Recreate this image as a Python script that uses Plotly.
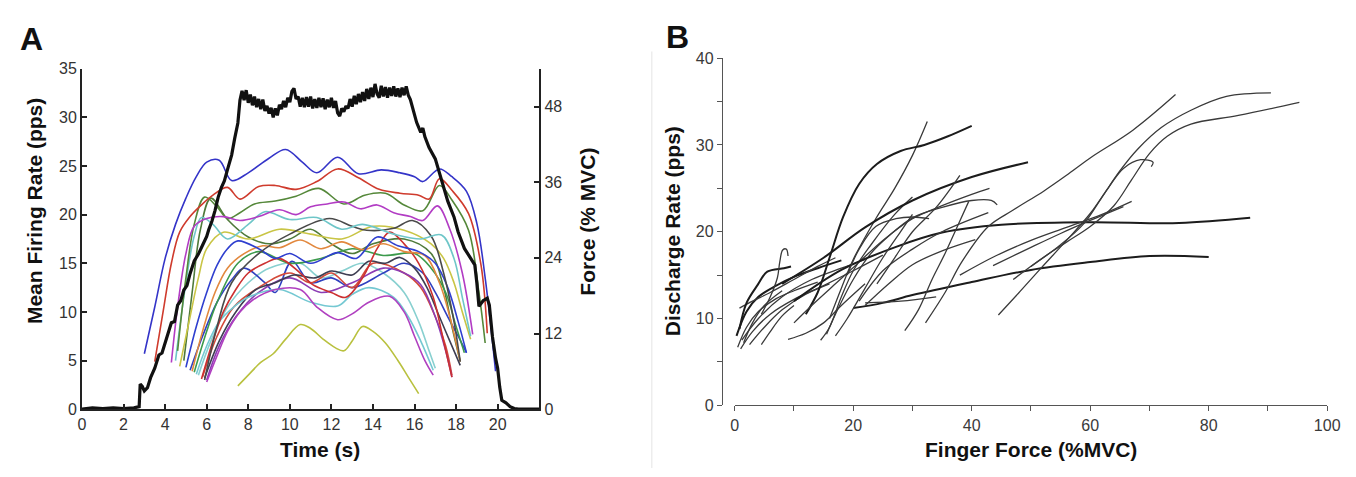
import plotly.graph_objects as go

# ---------------- Panel A data: motor-unit firing rates (pps) ----------------
mu01_t = [3.0,3.5,4.0,4.5,5.0,5.5,6.0,6.6,7.2,8.0,9.0,9.8,10.6,11.3,12.3,13.3,14.4,15.3,16.0,16.4,17.2,17.8,18.5,19.0,19.4,19.9]
mu01_r = [5.7,10.5,15.5,19.0,21.7,23.9,25.4,25.6,23.5,24.3,25.8,26.7,25.4,24.3,25.9,24.2,24.6,24.3,23.9,23.4,24.7,23.9,22.4,19.1,13.5,3.9]
mu02_t = [3.5,3.9,4.3,4.7,5.2,5.7,6.3,7.0,7.6,8.5,9.3,10.3,11.3,12.3,13.3,14.3,15.3,16.2,16.7,17.2,17.8,18.6,19.2,19.5]
mu02_r = [4.9,10.0,15.0,18.2,19.8,20.9,22.0,22.8,21.6,22.9,23.0,22.6,23.4,24.7,23.8,22.6,22.2,22.0,21.6,23.7,22.5,20.1,14.8,7.8]
mu03_t = [4.3,4.6,5.0,5.4,6.0,6.8,7.6,8.5,9.5,10.3,11.0,11.8,12.6,13.4,14.2,15.0,15.8,16.4,17.1,17.7,18.3,18.8]
mu03_r = [4.8,10.5,16.0,18.8,19.6,19.8,19.4,19.8,20.5,20.0,20.8,21.1,21.3,20.6,21.0,20.2,19.8,19.4,20.9,18.5,14.0,7.7]
mu04_t = [4.6,5.0,5.4,5.9,6.5,7.0,7.6,8.3,9.3,10.3,11.4,12.6,13.6,14.6,15.5,16.4,17.2,17.8,18.6,19.1,19.4]
mu04_r = [6.0,13.5,19.0,21.8,20.8,19.6,20.2,21.1,21.4,21.9,22.7,21.1,22.0,22.2,21.0,20.4,23.0,21.5,18.4,12.0,6.8]
mu05_t = [4.5,5.0,5.4,5.75,6.3,7.0,8.0,8.8,10.0,11.3,12.5,13.5,15.0,16.3,17.3,17.9,18.3,18.7]
mu05_r = [5.0,13.0,17.8,19.7,19.0,17.5,19.0,20.3,19.5,19.7,18.5,19.0,18.0,17.5,17.9,15.5,11.5,7.5]
mu06_t = [5.9,6.5,7.2,8.5,10.0,11.9,13.0,13.7,15.0,15.9,16.8,17.4,17.9,18.2]
mu06_r = [3.0,8.5,13.0,16.0,18.0,19.6,18.8,18.4,18.6,19.4,17.8,14.0,9.0,4.9]
mu07_t = [4.7,5.2,5.6,6.0,6.8,8.0,9.5,11.0,12.5,14.0,15.5,16.8,17.4,17.9,18.3,18.7]
mu07_r = [4.4,9.5,13.5,16.5,18.2,17.5,18.5,18.0,17.5,18.8,18.4,17.0,15.5,13.0,10.0,7.2]
mu08_t = [5.0,5.5,6.0,6.5,7.0,7.5,8.5,9.3,10.0,11.0,12.3,13.2,14.2,15.2,16.2,17.0,17.6,18.1,18.5]
mu08_r = [4.3,8.5,12.0,14.8,16.5,17.3,16.5,15.5,16.0,15.0,16.1,15.5,17.7,16.8,16.2,15.0,12.5,9.0,5.8]
mu09_t = [5.3,5.8,6.4,7.0,7.8,8.7,9.5,10.5,11.5,12.5,13.5,14.5,15.5,16.5,17.2,17.7,18.2]
mu09_r = [3.9,8.0,12.0,14.5,16.0,16.8,16.6,17.4,16.5,17.2,16.4,17.0,16.2,15.8,13.0,9.5,4.9]
mu10_t = [5.75,6.3,6.8,7.4,8.0,8.8,9.5,10.5,11.1,12.0,12.7,13.5,14.2,14.8,15.5,16.2,16.9,17.4,17.8]
mu10_r = [3.1,7.0,10.0,12.3,14.0,15.0,15.5,14.0,12.8,12.0,11.5,13.5,16.5,18.2,17.0,15.0,11.5,7.0,3.3]
mu11_t = [6.0,6.5,7.0,7.6,8.2,9.3,10.5,11.3,12.3,13.0,13.8,14.8,15.5,16.0,16.5,16.9]
mu11_r = [2.8,5.5,8.0,10.0,11.2,12.3,12.3,10.5,9.2,9.8,11.0,11.6,10.0,7.5,5.0,3.5]
mu12_t = [5.5,6.0,6.6,7.3,8.0,9.5,11.0,12.3,13.0,13.8,15.0,15.7,16.3,16.9]
mu12_r = [3.6,6.5,9.0,10.5,11.5,12.3,11.0,10.6,11.8,12.5,11.5,9.5,7.0,4.0]
mu13_t = [7.5,8.0,8.6,9.2,9.8,10.5,11.0,11.6,12.2,12.6,13.0,13.5,14.0,14.6,15.2,15.7,16.2]
mu13_r = [2.4,3.5,4.8,5.7,7.2,8.7,8.3,7.2,6.3,6.0,7.0,8.5,8.0,6.8,5.0,3.3,1.6]
mu14_t = [5.9,6.6,7.4,8.3,9.3,10.2,11.2,12.0,13.0,13.8,14.6,15.3,16.0,16.6,17.2,17.7,18.2]
mu14_r = [3.2,7.0,10.0,12.2,13.0,13.8,13.5,14.2,13.8,15.2,15.0,15.6,14.5,12.5,9.5,7.0,4.5]
mu15_t = [5.4,6.0,6.5,7.5,8.5,10.0,11.5,13.0,14.5,16.0,16.8,17.5,18.0,18.4]
mu15_r = [3.8,8.0,11.0,15.0,16.2,15.0,15.5,16.5,15.8,16.0,14.5,12.0,8.5,5.8]
mu16_t = [6.0,6.6,7.4,8.5,10.0,11.5,13.0,14.5,15.5,16.3,17.0,17.5,17.8]
mu16_r = [3.0,6.5,9.5,12.0,13.5,12.0,13.0,14.5,14.0,12.8,9.5,6.0,3.3]
mu17_t = [5.8,6.5,7.3,8.5,10.0,11.0,12.0,13.0,14.0,15.5,16.3,17.0,17.5,17.8]
mu17_r = [3.3,7.5,10.5,12.5,14.0,13.0,14.0,12.5,15.0,14.0,12.5,9.5,6.5,3.5]
mu18_t = [4.9,5.3,5.7,6.2,7.0,8.0,9.0,10.0,11.0,12.0,13.0,14.0,15.5,16.8,17.4,17.8,18.2]
mu18_r = [5.0,12.0,18.5,21.7,19.5,17.7,17.0,17.5,18.5,17.0,16.0,17.0,17.5,16.0,12.5,8.5,4.9]
mu19_t = [5.2,5.8,6.5,7.2,7.8,8.8,9.3,10.1,11.0,12.0,13.0,14.5,15.5,16.4,17.0,17.6,18.1,18.5]
mu19_r = [4.0,7.5,11.0,13.3,14.5,13.0,12.0,15.2,13.0,13.5,12.5,14.0,15.0,14.0,12.0,9.5,7.5,5.8]
mu20_t = [5.6,6.2,7.0,8.0,9.0,10.5,11.5,12.5,13.5,14.5,15.5,16.2,16.7,17.0]
mu20_r = [3.5,7.0,10.5,13.0,14.5,15.0,13.5,14.2,15.0,14.0,12.0,9.0,6.0,4.2]

mu_colors = ["#3434c8", "#cf3b2d", "#b23cc4", "#55883a", "#6ec6c8",
             "#4a4a4a", "#c9c545", "#2f3fcf", "#e2883e", "#cc3030",
             "#b040c0", "#74c8d2", "#b9c13f", "#3e3e52", "#3c9a4c",
             "#8c3cb4", "#d44a3a", "#4f7a3a", "#3040c0", "#88d0d0"]

# ---------------- Panel A data: force (% MVC) ----------------
force_t = [0.0,0.5,1.0,1.5,2.0,2.5,2.75,2.8,2.9,3.0,3.15,3.3,3.5,3.7,3.85,4.0,4.15,4.3,4.45,4.6,4.75,4.9,5.05,5.2,5.4,5.6,5.8,6.0,6.1,6.25,6.4,6.55,6.7,6.85,7.0,7.1,7.2,7.35,7.5,7.6,7.7,
           7.8,7.9,
           8.0,8.1,8.2,8.3,8.4,8.5,8.6,8.7,8.8,8.9,
           9.0,9.1,9.2,9.3,9.4,9.5,9.6,9.7,9.8,9.9,
           10.0,10.1,10.2,10.3,10.4,10.5,10.6,10.7,10.8,10.9,
           11.0,11.1,11.2,11.3,11.4,11.5,11.6,11.7,11.8,11.9,
           12.0,12.1,12.2,12.3,12.4,12.5,12.6,12.7,12.8,12.9,
           13.0,13.1,13.2,13.3,13.4,13.5,13.6,13.7,13.8,13.9,
           14.0,14.1,14.2,14.3,14.4,14.5,14.6,14.7,14.8,14.9,
           15.0,15.1,15.2,15.3,15.4,15.5,15.6,15.7,15.8,
           15.9,16.1,16.3,16.4,16.5,16.7,17.0,17.3,17.6,17.9,18.1,18.4,18.7,18.9,19.0,19.1,19.3,19.5,19.6,19.75,19.9,20.0,20.1,20.2,20.4,20.6,20.8,21.0,22.0]
force_mvc = [0.0,0.2,0.1,0.2,0.1,0.2,0.4,4.0,3.6,2.9,3.4,5.0,6.5,8.6,8.9,10.6,12.2,13.7,13.9,16.5,17.2,18.9,19.6,21.5,23.5,24.6,26.0,27.4,28.5,29.8,31.5,33.6,35.1,36.2,38.0,39.4,40.3,43.0,45.4,49.0,50.5,
             49.0,50.6,
             48.6,49.9,48.2,49.6,47.9,49.2,47.6,49.1,47.3,48.1,
             46.9,47.8,46.3,47.7,46.6,48.3,47.6,48.9,47.9,49.4,
             48.7,50.4,50.9,49.2,49.6,48.0,49.4,47.9,49.5,48.0,
             49.6,47.7,49.2,47.8,49.4,47.9,49.3,47.6,49.1,47.9,
             49.4,47.8,48.9,47.0,46.5,47.7,47.2,48.1,47.7,49.2,
             48.0,49.7,48.4,50.0,48.7,50.3,48.9,50.8,49.2,51.0,
             49.5,51.6,50.0,49.4,51.3,49.6,51.1,49.4,51.0,49.7,
             51.2,49.6,50.9,49.5,51.0,49.8,51.2,49.8,49.1,
             48.0,45.5,43.9,44.6,43.2,41.5,39.7,36.2,33.0,30.5,28.1,25.5,24.0,22.9,20.0,16.3,17.2,17.6,16.5,11.5,8.1,6.5,3.5,1.4,1.0,0.4,0.1,0.0,0.0]

a_time_ticks = [0, 2, 4, 6, 8, 10, 12, 14, 16, 18, 20]
a_rate_ticks = [0, 5, 10, 15, 20, 25, 30, 35]
a_force_ticks = [0, 12, 24, 36, 48]

# ---------------- Panel B data: discharge rate vs finger force ----------------
b01_f = [0.3,2,4,7,10,14,18];            b01_r = [8.0,10.8,12.5,13.8,14.8,15.8,16.7]
b02_f = [0.5,2,4,7,10,14];               b02_r = [6.7,9.0,10.8,12.3,13.2,14.2]
b03_f = [1.0,3,6,10,15,20,25];           b03_r = [6.5,8.5,10.5,12.2,13.8,15.5,17.3]
b04_f = [0.8,3,6,10,14,17];              b04_r = [11.2,12.0,13.0,14.5,16.0,17.0]
b05_f = [1.5,3,5,8];                     b05_r = [7.2,9.5,11.5,13.2]
b06_f = [2.5,5,8,12,16];                 b06_r = [7.0,9.0,11.0,12.8,14.0]
b07_f = [4.5,6,8,10];                    b07_r = [7.0,8.5,10.3,11.5]
b08_f = [0.8,2,3.9,5.5,8.3,9.5];         b08_r = [8.8,11.8,13.9,15.4,15.8,16.0]
b09_f = [4.5,6,7.2,7.6,8.1,8.7,9.0];     b09_r = [10.5,12.5,14.7,16.5,17.9,18.0,17.2]
b10_f = [1.2,4,8,13,18,22];              b10_r = [7.5,10.0,12.5,14.5,15.8,16.8]
b11_f = [9,12,15,18,22];                 b11_r = [7.6,8.3,9.5,11.5,14.0]
b12_f = [14.5,16,18,20,23,27,30];        b12_r = [7.5,9.0,12.5,15.5,18.5,22.0,24.0]
b13_f = [16,18,20,23.8,27,30,32.5];      b13_r = [10.0,13.5,16.8,21.5,25.0,28.8,32.7]
b14_f = [15.5,17,20,23,26,30,35,40,43.3,44.3]; b14_r = [8.2,10.5,14.5,17.5,19.5,21.6,22.8,23.6,23.6,23.1]
b15_f = [12,14,16,18.3,21,24,28,32,36,40];     b15_r = [10.5,13.0,17.0,21.7,25.5,27.8,29.3,30.0,31.0,32.2]
b16_f = [10,13,17,21,25,30,35,40,43];    b16_r = [9.5,11.5,14.0,16.5,19.0,21.5,23.0,24.3,25.0]
b17_f = [8,15,22,30,40,49.5];            b17_r = [14.0,17.0,20.5,23.6,26.3,28.0]
b18_f = [10,18,27,35,45,60,75,87];       b18_r = [12.0,15.6,18.2,19.9,20.8,21.1,21.0,21.6]
b19_f = [20,25,30,40,50,60,70,80];       b19_r = [11.2,11.8,12.7,14.2,15.6,16.5,17.2,17.1]
b20_f = [19,21,23.8,27.2,30,32.8];       b20_r = [15.0,18.0,20.6,21.5,21.7,21.5]
b21_f = [28.7,31,33.3,35.5,37.5,39.5];   b21_r = [8.6,11.0,14.5,17.5,20.5,23.5]
b22_f = [32.2,35.5,38.3,42.8,47,52.2,56,60,67.2,74.4]; b22_r = [9.5,13.0,16.5,20.6,22.5,24.7,26.5,28.5,31.7,35.8]
b23_f = [22,26,30,35,40.6];              b23_r = [11.5,14.0,16.2,17.8,19.1]
b24_f = [21,25,30,35,42.8];              b24_r = [12.0,15.5,18.0,20.0,22.2]
b25_f = [24,27,30,34,38];                b25_r = [14.0,17.0,20.0,22.8,26.5]
b26_f = [17,19,22,25,28,30];             b26_r = [8.0,10.0,13.5,17.0,20.0,22.0]
b27_f = [43.6,50,55,60,65.6];            b27_r = [16.1,18.2,19.8,21.3,22.9]
b28_f = [44.5,48,51.7,56,60,63,65.6,68.5,70.6,70.3]; b28_r = [10.4,13.0,15.8,19.0,22.1,25.0,27.3,28.3,28.0,27.5]
b29_f = [47,52,56,60,64,67,70,73,77,85,95.3];  b29_r = [14.5,17.0,18.8,20.6,23.0,26.0,29.0,31.0,32.4,33.4,34.9]
b30_f = [50,55,59,62,65,68,72,77,83,90.5];     b30_r = [16.0,18.5,21.0,24.0,27.0,29.5,32.0,34.0,35.6,36.0]
b31_f = [38,44,50,56,62,67];             b31_r = [15.0,17.2,19.0,20.5,22.0,23.5]
b32_f = [22,28,34];                      b32_r = [11.8,12.0,12.5]

b_thick = {"b01", "b15", "b17", "b18", "b19", "b08"}

b_force_ticks = [0, 20, 40, 60, 80, 100]
b_rate_ticks = [0, 10, 20, 30, 40]

# ---------------- build figure ----------------
W, H = 1356, 477
def fx(p):
    return p / W
def fy(p):
    return 1 - p / H

FONT = "Arial, Liberation Sans, Helvetica, sans-serif"
fig = go.Figure()

mu_series = [
    (mu01_t, mu01_r), (mu02_t, mu02_r), (mu03_t, mu03_r), (mu04_t, mu04_r), (mu05_t, mu05_r),
    (mu06_t, mu06_r), (mu07_t, mu07_r), (mu08_t, mu08_r), (mu09_t, mu09_r), (mu10_t, mu10_r),
    (mu11_t, mu11_r), (mu12_t, mu12_r), (mu13_t, mu13_r), (mu14_t, mu14_r), (mu15_t, mu15_r),
    (mu16_t, mu16_r), (mu17_t, mu17_r), (mu18_t, mu18_r), (mu19_t, mu19_r), (mu20_t, mu20_r),
]
order = list(range(len(mu_series)))[::-1]
for i in order:
    t, r = mu_series[i]
    fig.add_trace(go.Scatter(x=t, y=r, mode="lines", xaxis="x", yaxis="y",
                             line=dict(color=mu_colors[i], width=1.6, shape="spline", smoothing=1.0),
                             hoverinfo="skip", showlegend=False))

fig.add_trace(go.Scatter(x=force_t, y=force_mvc, mode="lines", xaxis="x", yaxis="y2",
                         line=dict(color="#111111", width=3.2),
                         hoverinfo="skip", showlegend=False))

b_series = {
    "b01": (b01_f, b01_r), "b02": (b02_f, b02_r), "b03": (b03_f, b03_r), "b04": (b04_f, b04_r),
    "b05": (b05_f, b05_r), "b06": (b06_f, b06_r), "b07": (b07_f, b07_r), "b08": (b08_f, b08_r),
    "b09": (b09_f, b09_r), "b10": (b10_f, b10_r), "b11": (b11_f, b11_r), "b12": (b12_f, b12_r),
    "b13": (b13_f, b13_r), "b14": (b14_f, b14_r), "b15": (b15_f, b15_r), "b16": (b16_f, b16_r),
    "b17": (b17_f, b17_r), "b18": (b18_f, b18_r), "b19": (b19_f, b19_r), "b20": (b20_f, b20_r),
    "b21": (b21_f, b21_r), "b22": (b22_f, b22_r), "b23": (b23_f, b23_r), "b24": (b24_f, b24_r),
    "b25": (b25_f, b25_r), "b26": (b26_f, b26_r), "b27": (b27_f, b27_r), "b28": (b28_f, b28_r),
    "b29": (b29_f, b29_r), "b30": (b30_f, b30_r), "b31": (b31_f, b31_r), "b32": (b32_f, b32_r),
}
for name, (f, r) in b_series.items():
    thick = name in b_thick
    fig.add_trace(go.Scatter(x=f, y=r, mode="lines", xaxis="x2", yaxis="y3",
                             line=dict(color="#1c1c1c" if thick else "#3a3a3a",
                                       width=2.0 if thick else 1.3, shape="spline", smoothing=1.0),
                             hoverinfo="skip", showlegend=False))

tickfont_a = dict(family=FONT, size=16, color="#333333")
tickfont_b = dict(family=FONT, size=16, color="#3a3a3a")

fig.update_layout(
    width=W, height=H,
    margin=dict(l=0, r=0, t=0, b=0),
    paper_bgcolor="white", plot_bgcolor="white",
    showlegend=False,
    xaxis=dict(domain=[fx(79), fx(542)], range=[0, 22], anchor="y",
               tickvals=a_time_ticks, ticks="inside", ticklen=5, tickwidth=1.5, tickcolor="#222",
               showline=True, linecolor="#222", linewidth=2, showgrid=False, zeroline=False,
               tickfont=tickfont_a),
    yaxis=dict(domain=[fy(416), fy(63)], range=[0, 35], anchor="x",
               tickvals=a_rate_ticks, ticks="inside", ticklen=5, tickwidth=1.5, tickcolor="#222",
               showline=True, linecolor="#222", linewidth=2, showgrid=False, zeroline=False,
               tickfont=tickfont_a),
    yaxis2=dict(domain=[fy(416), fy(63)], range=[0, 54], anchor="x", overlaying="y", side="right",
                tickvals=a_force_ticks, ticks="inside", ticklen=5, tickwidth=1.5, tickcolor="#222",
                showline=True, linecolor="#222", linewidth=2, showgrid=False, zeroline=False,
                tickfont=tickfont_a),
    xaxis2=dict(domain=[fx(740), fx(1340)], range=[0, 100], anchor="y3",
                tickvals=b_force_ticks, ticks="outside", ticklen=5, tickwidth=1, tickcolor="#555",
                minor=dict(dtick=10, ticks="outside", ticklen=5, tickwidth=1, tickcolor="#555"),
                showline=True, linecolor="#555", linewidth=1.2, showgrid=False, zeroline=False,
                tickfont=tickfont_b),
    yaxis3=dict(domain=[fy(412), fy(52)], range=[0, 40], anchor="free", position=fx(727),
                tickvals=b_rate_ticks, ticks="outside", ticklen=5, tickwidth=1, tickcolor="#555",
                minor=dict(dtick=5, ticks="outside", ticklen=5, tickwidth=1, tickcolor="#555"),
                showline=True, linecolor="#555", linewidth=1.2, showgrid=False, zeroline=False,
                tickfont=tickfont_b),
)

def label(text, x, y, size, angle=0):
    fig.add_annotation(text=text, x=fx(x), y=fy(y), xref="paper", yref="paper",
                       showarrow=False, textangle=angle, xanchor="center", yanchor="middle",
                       font=dict(family=FONT, size=size, color="#111111"))

label("<b>A</b>", 28, 32, 32)
label("<b>B</b>", 682, 30, 32)
label("<b>Mean Firing Rate (pps)</b>", 31, 211, 21, -90)
label("<b>Time (s)</b>", 320, 458, 21)
label("<b>Force (% MVC)</b>", 590, 222, 21, -90)
label("<b>Discharge Rate (pps)</b>", 677, 232, 21, -90)
label("<b>Finger Force (%MVC)</b>", 1040, 458, 21)

fig.add_shape(type="line", xref="paper", yref="paper",
              x0=fx(656), x1=fx(656), y0=0, y1=fy(45),
              line=dict(color="#ededed", width=1.5))

fig.write_html("out.html", config={"displayModeBar": False},
               post_script="document.body.style.margin='0';document.body.style.overflow='hidden';")
